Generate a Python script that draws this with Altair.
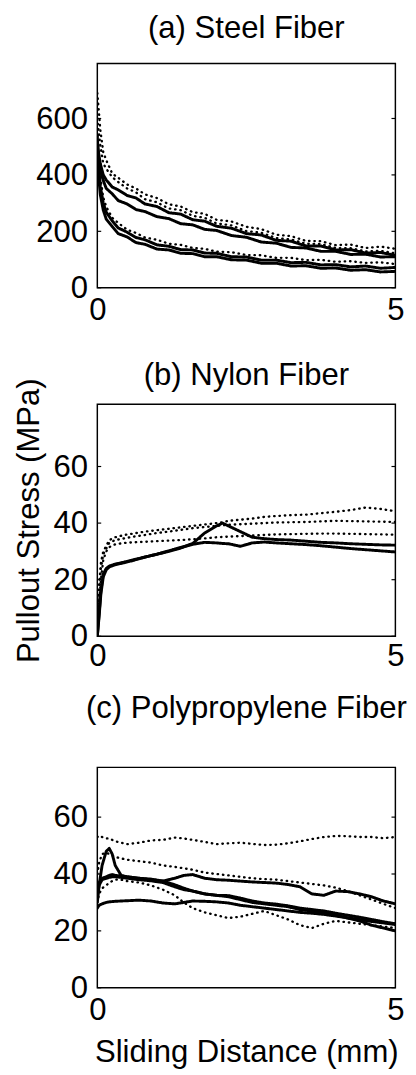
import altair as alt
import pandas as pd

FONT = "Liberation Sans"

# ---------------- (a) Steel Fiber ----------------
steel_x = [0, 0.02, 0.05, 0.1, 0.15, 0.25, 0.35, 0.5, 0.65, 0.8, 1.0, 1.2, 1.4, 1.6,
           1.8, 2.0, 2.25, 2.5, 2.75, 3.0, 3.25, 3.5, 3.75, 4.0, 4.25, 4.5, 4.75, 5.0]
steel_series = {
    "U1": ("dotted", [690, 640, 560, 480, 452, 405, 390, 366, 352, 331, 318, 296, 288, 268,
                      262, 241, 235, 216, 208, 188, 183, 166, 165, 151, 153, 141, 146, 138]),
    "U2": ("dotted", [600, 560, 505, 440, 422, 392, 375, 352, 338, 314, 303, 281, 275, 255,
                      248, 228, 221, 201, 195, 176, 171, 156, 155, 141, 140, 129, 131, 122]),
    "U3": ("solid",  [520, 480, 440, 400, 382, 357, 347, 327, 318, 297, 288, 266, 261, 241,
                      236, 218, 211, 192, 187, 168, 165, 148, 148, 134, 135, 123, 125, 115]),
    "U4": ("solid",  [500, 460, 420, 380, 352, 333, 309, 297, 277, 270, 252, 245, 227, 223,
                      207, 203, 185, 179, 162, 158, 143, 141, 129, 129, 118, 119, 109, 110]),
    "L1": ("solid",  [540, 440, 360, 300, 268, 237, 212, 197, 178, 170, 152, 147, 135, 134,
                      123, 122, 110, 109, 98, 98, 89, 90, 81, 82, 74, 77, 69, 72]),
    "L2": ("solid",  [480, 400, 330, 275, 243, 217, 192, 180, 160, 154, 137, 134, 122, 121,
                      110, 110, 99, 98, 87, 87, 77, 78, 69, 70, 62, 64, 56, 58]),
    "L3": ("dotted", [560, 470, 390, 320, 287, 248, 230, 206, 194, 178, 170, 156, 152, 141,
                      138, 128, 126, 116, 115, 106, 106, 98, 99, 92, 94, 88, 90, 84]),
}

# ---------------- (b) Nylon Fiber ----------------
nylon_x = [0, 0.03, 0.06, 0.1, 0.15, 0.2, 0.3, 0.45, 0.6, 0.8, 1.0, 1.2, 1.4, 1.6, 1.8,
           2.0, 2.1, 2.2, 2.4, 2.6, 2.8, 3.0, 3.25, 3.5, 3.75, 4.0, 4.25, 4.5, 4.75, 5.0]
nylon_series = {
    "N1": ("solid",  [0, 8, 16, 22, 24, 24.8, 25.5, 26.2, 27, 28, 29, 30, 31.2, 32.8, 36.5,
                      39, 40, 39, 37, 35, 34.5, 34.2, 34, 33.6, 33.2, 33, 32.7, 32.5, 32.3, 32.2]),
    "N2": ("solid",  [0, 7, 15, 21, 23.5, 24.5, 25.3, 26, 26.8, 28, 29, 30.2, 31.4, 32.5, 33.2,
                      33, 32.8, 32.7, 31.8, 33, 33.3, 33, 32.7, 32.4, 32, 31.5, 31, 30.6, 30.2, 29.8]),
    "D1": ("dotted", [5, 18, 26, 30, 32, 34, 35, 35.8, 36.3, 37, 37.5, 38, 38.5, 39, 39.5,
                      40, 40.3, 40.8, 41.2, 41.6, 42.2, 42.5, 42.8, 43, 43.5, 44, 44.6, 45.5, 45, 44.2]),
    "D2": ("dotted", [5, 15, 24, 29, 31, 33, 34, 34.6, 35.2, 35.8, 36.5, 37, 37.6, 38.2, 38.6,
                      39, 39.2, 39.4, 39.6, 39.8, 40, 40.2, 40.3, 40.4, 40.6, 40.8, 40.7, 40.6, 40.5, 40.4]),
    "D3": ("dotted", [4, 12, 20, 27, 30, 31.5, 32.5, 33, 33.2, 33.4, 33.6, 33.8, 34, 34.3, 34.6,
                      35, 35.1, 35.2, 35.4, 35.6, 35.8, 36, 36.1, 36.2, 36.3, 36.3, 36.2, 36.1, 36, 35.9]),
}

# ---------------- (c) Polypropylene Fiber ----------------
pp_x = [0, 0.03, 0.08, 0.15, 0.2, 0.25, 0.3, 0.4, 0.5, 0.7, 0.9, 1.1, 1.3, 1.45, 1.6, 1.8,
        2.0, 2.2, 2.4, 2.6, 2.8, 3.0, 3.2, 3.4, 3.6, 3.8, 4.0, 4.2, 4.4, 4.6, 4.8, 5.0]
pp_series = {
    "PD1": ("dotted", [53, 53.5, 53, 52.5, 52.5, 52, 51.5, 51, 50.5, 51, 51.8, 52, 52.8, 52.5, 52, 51.3,
                       50.5, 50.8, 51, 50.6, 50.2, 50.3, 50.8, 51.5, 52.3, 53, 53.4, 53.3, 53, 53, 52.6, 53]),
    "PD2": ("dotted", [40, 44, 47, 47.5, 47, 46.5, 46, 45.5, 45, 44.5, 44, 43, 42.5, 42, 41.5, 40.5,
                       40, 39.5, 39, 38.5, 38.2, 38, 37.5, 37, 36.5, 36, 35.2, 34, 32.5, 31, 29.5, 28]),
    "PD3": ("dotted", [30, 33, 35, 36, 37, 37.5, 38, 38, 37.5, 37, 36, 34.5, 32.5, 30, 28, 26.5,
                       25.5, 24.5, 25, 26, 27, 25.5, 24, 22, 21, 22.5, 23.5, 23, 22.5, 22, 21.5, 21]),
    "PS1": ("solid",  [30, 36, 43, 48, 49, 47, 43, 39.5, 39, 38.5, 38, 37.5, 38.5, 39.5, 39.8, 38.5,
                       38, 37.8, 37.5, 37.2, 37, 36.8, 36.3, 35.5, 33, 32.5, 34, 33.8, 33, 32, 30.5, 29.5]),
    "PS2": ("solid",  [32, 36, 38, 38.5, 38.8, 39, 39, 38.8, 38.5, 38, 37.6, 37, 35.5, 34.5, 34, 33,
                       32.5, 32, 31, 30, 29.5, 29, 28.5, 27.5, 27, 26.5, 25.5, 24.5, 23.5, 22, 21, 20]),
    "PS3": ("solid",  [28, 29, 29.5, 30, 30.2, 30.3, 30.4, 30.5, 30.6, 30.8, 30.5, 29.8, 29.5, 30, 30.5, 30.4,
                       30.2, 29.8, 29, 28.5, 28, 27.5, 27, 26.5, 26.2, 25.8, 25.2, 24.6, 24, 23.3, 22.8, 22.2]),
    "PS4": ("solid",  [34, 37, 38.5, 39, 39.5, 39.8, 39.5, 39.3, 39, 38.5, 38.2, 37.5, 36.2, 35, 34, 33,
                       32.5, 32.4, 31.5, 30.5, 29.8, 29.4, 28.8, 28, 27.5, 27, 26.2, 25.5, 24.8, 24, 23.2, 22.5]),
}

x_ticks = [0, 5]
steel_ticks = [0, 200, 400, 600]
fiber_ticks = [0, 20, 40, 60]

PLOT_W = 307


def to_frame(xs, series):
    rows = []
    for name, (style, ys) in series.items():
        for xv, yv in zip(xs, ys):
            rows.append({"x": xv, "y": yv, "series": name, "style": style})
    return pd.DataFrame(rows)


def panel(title, xs, series, ymax, yticks, height, title_offset, widths,
          ytitle=None, xtitle=None, label_pad=8):
    df = to_frame(xs, series)
    xscale = alt.Scale(domain=[0, 5], nice=False)
    yscale = alt.Scale(domain=[0, ymax], nice=False)
    xaxis = alt.Axis(values=x_ticks, labelPadding=label_pad, titlePadding=12)
    yaxis = alt.Axis(values=yticks, labelPadding=10, titlePadding=8)
    if xtitle:
        xenc = alt.X("x:Q", scale=xscale, axis=xaxis, title=xtitle)
    else:
        xenc = alt.X("x:Q", scale=xscale, axis=xaxis, title=None)
    if ytitle:
        yenc = alt.Y("y:Q", scale=yscale, axis=yaxis, title=ytitle)
    else:
        yenc = alt.Y("y:Q", scale=yscale, axis=yaxis, title=None)
    lines = alt.Chart(df).mark_line(color="black", clip=True, strokeCap="round",
                                    strokeJoin="round").encode(
        x=xenc,
        y=yenc,
        detail="series:N",
        strokeDash=alt.StrokeDash("style:N", scale=alt.Scale(domain=["solid", "dotted"],
                                                            range=[[1, 0], [0.5, 5]]), legend=None),
        strokeWidth=alt.StrokeWidth("style:N", scale=alt.Scale(domain=["solid", "dotted"],
                                                              range=widths), legend=None),
    )
    tdf = pd.DataFrame({"v": yticks})
    left_ticks = alt.Chart(tdf).mark_rule(color="black", strokeWidth=1.2).encode(
        y=alt.Y("v:Q", scale=yscale), x=alt.value(0), x2=alt.value(4))
    right_ticks = alt.Chart(tdf).mark_rule(color="black", strokeWidth=1.2).encode(
        y=alt.Y("v:Q", scale=yscale), x=alt.value(PLOT_W - 4), x2=alt.value(PLOT_W))
    return alt.layer(lines, left_ticks, right_ticks).properties(
        width=PLOT_W, height=height,
        title=alt.TitleParams(title, fontSize=32, font=FONT, fontWeight="normal",
                              color="black", offset=title_offset, frame="group", anchor="middle"),
    )


a = panel("(a) Steel Fiber", steel_x, steel_series, 795, steel_ticks, 231, 19, [3.0, 2.4])
b = panel("(b) Nylon Fiber", nylon_x, nylon_series, 82, fiber_ticks, 239, -14, [2.8, 2.4],
          ytitle="Pullout Stress (MPa)", label_pad=5)
c = panel("(c) Polypropylene Fiber", pp_x, pp_series, 77.5, fiber_ticks, 227, 44, [2.8, 2.4],
          xtitle="Sliding Distance (mm)")

chart = alt.vconcat(a, alt.vconcat(b, c, spacing=20), spacing=33).properties(
    padding={"left": 4, "top": -12, "right": 0, "bottom": 0}
).configure_view(
    stroke="black", strokeWidth=1.5
).configure_axis(
    domain=False, ticks=False, grid=False,
    labelFont=FONT, labelFontSize=32, labelColor="black",
    titleFont=FONT, titleFontSize=32, titleColor="black", titleFontWeight="normal",
).configure_axisX(labelFlush=False)

chart.save("out.html", embed_options={"renderer": "svg", "actions": False})
